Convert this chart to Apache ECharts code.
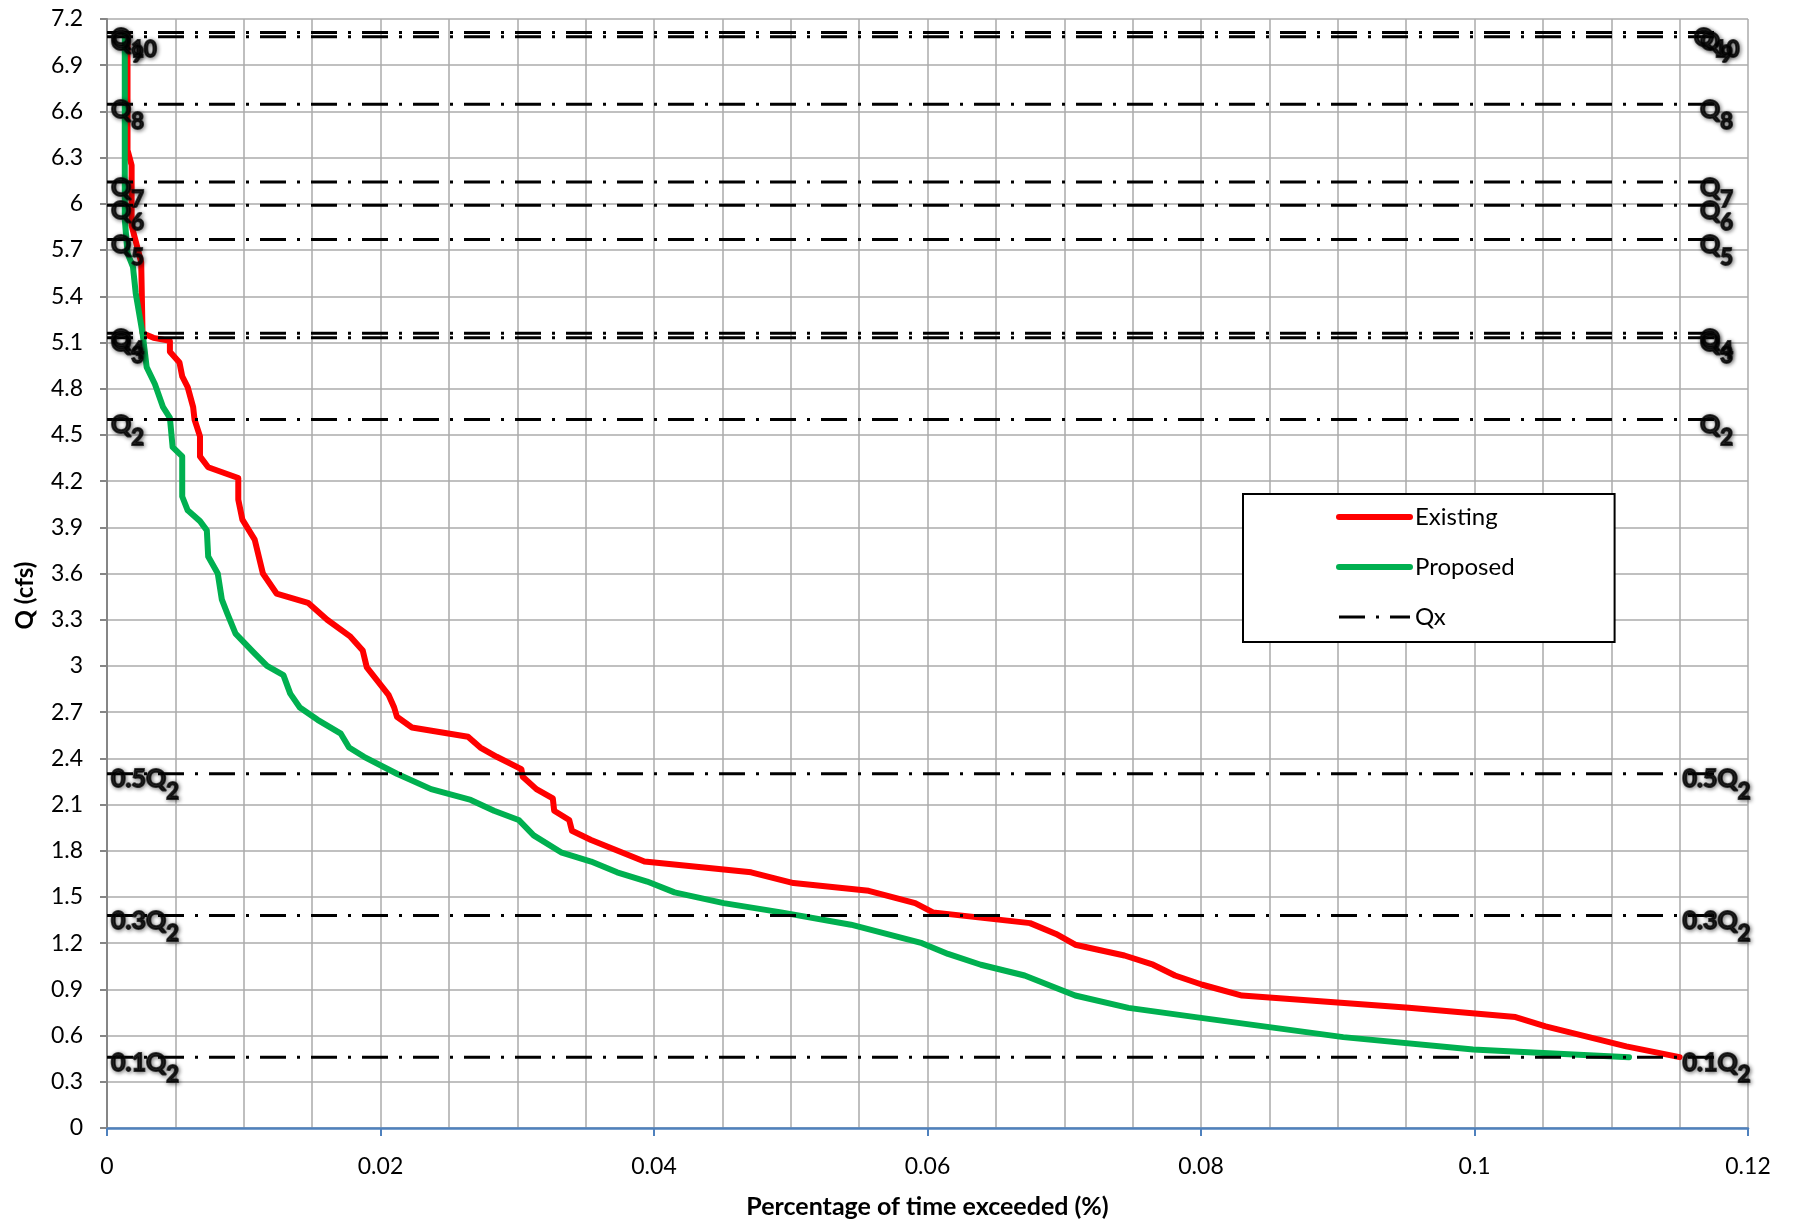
<!DOCTYPE html>
<html>
<head>
<meta charset="utf-8">
<title>Flow duration - Existing vs Proposed</title>
<script src="https://cdn.jsdelivr.net/npm/echarts@6.0.0/dist/echarts.min.js"></script>
<style>
html, body { margin: 0; padding: 0; background: #fff; }
#chart { width: 1793px; height: 1222px; }
</style>
</head>
<body>
<div id="chart"></div>
<script>
// [percent of time exceeded, Q (cfs)]
var existingCurve = [
  [0.0015, 7.10], [0.0015, 6.35], [0.0018, 6.25], [0.0018, 5.86], [0.0025, 5.62],
  [0.0026, 5.16], [0.0034, 5.13], [0.0046, 5.11], [0.0046, 5.04], [0.0053, 4.97],
  [0.0055, 4.88], [0.0059, 4.81], [0.0063, 4.68], [0.0064, 4.60], [0.0068, 4.49],
  [0.0068, 4.36], [0.0074, 4.29], [0.0096, 4.22], [0.0096, 4.08], [0.0099, 3.95],
  [0.0108, 3.82], [0.0114, 3.60], [0.0124, 3.47], [0.0147, 3.41], [0.0161, 3.30],
  [0.0178, 3.19], [0.0187, 3.10], [0.0190, 2.99], [0.0206, 2.81], [0.0210, 2.73],
  [0.0212, 2.67], [0.0223, 2.60], [0.0264, 2.54], [0.0273, 2.47], [0.0285, 2.41],
  [0.0303, 2.33], [0.0304, 2.28], [0.0314, 2.20], [0.0326, 2.14], [0.0327, 2.06],
  [0.0338, 2.00], [0.0340, 1.93], [0.0354, 1.87], [0.0393, 1.73], [0.0471, 1.66],
  [0.0502, 1.59], [0.0557, 1.54], [0.0591, 1.46], [0.0604, 1.40], [0.0675, 1.33],
  [0.0694, 1.26], [0.0708, 1.19], [0.0744, 1.12], [0.0765, 1.06], [0.0781, 0.99],
  [0.0801, 0.93], [0.0830, 0.86], [0.0952, 0.78], [0.1030, 0.72], [0.1052, 0.66],
  [0.1111, 0.53], [0.1150, 0.46]
];

var proposedCurve = [
  [0.0013, 7.10], [0.0013, 5.90], [0.0015, 5.68], [0.0019, 5.59], [0.0021, 5.42],
  [0.0026, 5.16], [0.0029, 4.94], [0.0035, 4.83], [0.0041, 4.68], [0.0046, 4.61],
  [0.0048, 4.42], [0.0055, 4.36], [0.0055, 4.10], [0.0059, 4.01], [0.0068, 3.94],
  [0.0073, 3.88], [0.0074, 3.71], [0.0081, 3.60], [0.0084, 3.43], [0.0088, 3.34],
  [0.0094, 3.21], [0.0107, 3.09], [0.0117, 3.00], [0.0129, 2.94], [0.0134, 2.82],
  [0.0141, 2.73], [0.0154, 2.65], [0.0171, 2.56], [0.0177, 2.47], [0.0188, 2.41],
  [0.0212, 2.30], [0.0237, 2.20], [0.0266, 2.13], [0.0283, 2.06], [0.0301, 2.00],
  [0.0312, 1.90], [0.0332, 1.79], [0.0354, 1.73], [0.0373, 1.66], [0.0395, 1.60],
  [0.0415, 1.53], [0.0451, 1.46], [0.0493, 1.40], [0.0544, 1.32], [0.0596, 1.20],
  [0.0615, 1.13], [0.0639, 1.06], [0.0671, 0.99], [0.0708, 0.86], [0.0747, 0.78],
  [0.0796, 0.72], [0.0904, 0.59], [0.0999, 0.51], [0.1113, 0.46]
];

// Qx reference flows
var qxPrefix = ['Q', 'Q', 'Q', 'Q', 'Q', 'Q', 'Q', 'Q', 'Q', '0.5Q', '0.3Q', '0.1Q'];
var qxSub = ['10', '9', '8', '7', '6', '5', '4', '3', '2', '2', '2', '2'];
var qxValues = [7.113, 7.085, 6.647, 6.142, 5.991, 5.768, 5.160, 5.130, 4.600, 2.300, 1.380, 0.460];
var qxRange = [0, 0.1177];

var font = 'Lato';
var chart = echarts.init(document.getElementById('chart'));

var glow = {
  textBorderColor: '#111', textBorderWidth: 1.8,
  textShadowColor: 'rgba(0,0,0,0.55)', textShadowBlur: 4, textShadowOffsetX: 1, textShadowOffsetY: 1
};
var labelRich = {
  q: Object.assign({
    fontFamily: font, fontSize: 25, fontWeight: 'bold', color: '#000',
    lineHeight: 28, verticalAlign: 'top'
  }, glow),
  s: Object.assign({
    fontFamily: font, fontSize: 22, fontWeight: 'bold', color: '#000',
    lineHeight: 22, padding: [14, 0, 0, 0], verticalAlign: 'top'
  }, glow)
};

var series = [
  {
    name: 'Existing', type: 'line', data: existingCurve, symbol: 'none', z: 2,
    lineStyle: { color: '#ff0000', width: 6, cap: 'round', join: 'round' },
    itemStyle: { color: '#ff0000' }
  },
  {
    name: 'Proposed', type: 'line', data: proposedCurve, symbol: 'none', z: 2,
    lineStyle: { color: '#00b050', width: 6, cap: 'round', join: 'round' },
    itemStyle: { color: '#00b050' }
  }
];

var labelData = [];
qxValues.forEach(function (q, i) {
  series.push({
    name: 'Qx', type: 'line', symbol: 'none', z: 3, silent: true,
    data: [[qxRange[0], q], [qxRange[1], q]],
    lineStyle: { color: '#000', width: 3, type: [26, 11, 3, 11] },
    itemStyle: { color: '#000' }
  });
  var text = '{q|' + qxPrefix[i] + '}{s|' + qxSub[i] + '}';
  labelData.push({ value: [qxRange[0], q], label: { formatter: text, align: 'left', offset: [4, 7] } });
  labelData.push({ value: [qxRange[1], q], label: { formatter: text, align: 'center', offset: [0, 7] } });
});

series.push({
  name: 'labels', type: 'scatter', z: 5, silent: true,
  symbolSize: 2, itemStyle: { color: 'rgba(0,0,0,0)' },
  data: labelData,
  label: { show: true, position: 'inside', color: '#000', rich: labelRich }
});

var noSymbol = { opacity: 0, borderWidth: 0 };

var option = {
  animation: false,
  backgroundColor: '#fff',
  textStyle: { fontFamily: font },
  grid: { left: 107, right: 45, top: 19, bottom: 94, containLabel: false, outerBoundsMode: 'none' },
  legend: {
    orient: 'vertical', left: 1243, top: 494,
    data: [
      { name: 'Existing', lineStyle: { width: 6 }, itemStyle: noSymbol },
      { name: 'Proposed', lineStyle: { width: 6 }, itemStyle: noSymbol },
      { name: 'Qx', lineStyle: { width: 3 }, itemStyle: noSymbol }
    ],
    itemWidth: 71, itemHeight: 24, itemGap: 26,
    padding: [11, 100, 13, 93],
    borderColor: '#000', borderWidth: 2, backgroundColor: '#fff',
    textStyle: { fontFamily: font, fontSize: 24, color: '#000' },
    selectedMode: false
  },
  xAxis: {
    type: 'value', min: 0, max: 0.12, interval: 0.02,
    name: 'Percentage of time exceeded (%)', nameLocation: 'middle', nameGap: 66,
    nameTextStyle: { fontFamily: font, fontSize: 25, fontWeight: 'bold', color: '#000' },
    axisLine: { show: true, onZero: false, lineStyle: { color: '#4f81bd', width: 2.5 } },
    axisTick: { show: true, length: 8, lineStyle: { color: '#4f81bd', width: 2 } },
    axisLabel: { margin: 27, fontFamily: font, fontSize: 23, color: '#000' },
    splitLine: { show: true, lineStyle: { color: '#ababab', width: 1.5 } },
    minorTick: { show: false, splitNumber: 4 },
    minorSplitLine: { show: true, lineStyle: { color: '#ababab', width: 1.5 } }
  },
  yAxis: {
    type: 'value', min: 0, max: 7.2, interval: 0.3,
    name: 'Q (cfs)', nameLocation: 'middle', nameGap: 70,
    nameTextStyle: { fontFamily: font, fontSize: 24, fontWeight: 'bold', color: '#000', padding: [0, 44, 0, 0] },
    axisLine: { show: true, onZero: false, lineStyle: { color: '#868686', width: 2 } },
    axisTick: { show: true, length: 7, lineStyle: { color: '#868686', width: 2 } },
    axisLabel: { margin: 24, fontFamily: font, fontSize: 23, color: '#000' },
    splitLine: { show: true, lineStyle: { color: '#ababab', width: 1.5 } }
  },
  series: series
};

chart.setOption(option);
</script>
</body>
</html>
